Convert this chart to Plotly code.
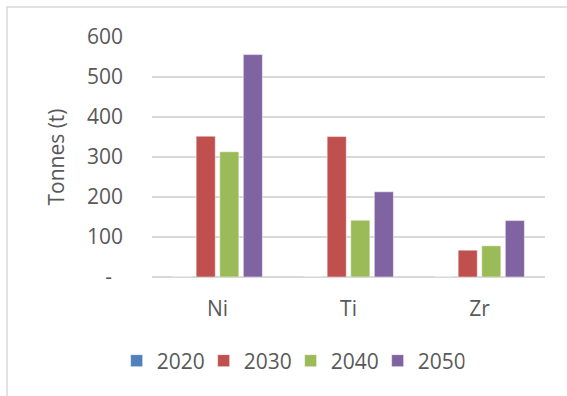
import plotly.graph_objects as go

# Data
metals = ["Ni", "Ti", "Zr"]
years = ["2020", "2030", "2040", "2050"]
tonnes_2020 = [0, 0, 0]
tonnes_2030 = [352, 351, 67]
tonnes_2040 = [313, 142, 78]
tonnes_2050 = [556, 213, 141]
series_values = [tonnes_2020, tonnes_2030, tonnes_2040, tonnes_2050]
series_colors = ["#4F81BD", "#C0504D", "#9BBB59", "#8064A2"]

y_ticks = [0, 100, 200, 300, 400, 500, 600]
y_tick_labels = ["-\u00a0\u00a0", "100", "200", "300", "400", "500", "600"]

FONT = "'Open Sans', Lato, sans-serif"
TEXT = "#595959"
GRID = "#D9D9D9"

fig = go.Figure()
for name, vals, col in zip(years, series_values, series_colors):
    fig.add_trace(go.Bar(
        name=name, x=metals, y=vals,
        marker=dict(color=col, line=dict(color="rgba(255,255,255,0.6)", width=0.8)),
    ))

fig.update_layout(
    width=567, height=396,
    margin=dict(l=152, r=22, t=37, b=119),
    paper_bgcolor="white", plot_bgcolor="white",
    barmode="group", bargap=0.28, bargroupgap=0.19,
    font=dict(family=FONT, size=21, color=TEXT),
    showlegend=True,
    legend=dict(
        orientation="h", x=-0.09, xanchor="left", y=-0.35, yanchor="middle",
        font=dict(family=FONT, size=21, color=TEXT),
        entrywidth=42, entrywidthmode="pixels",
        traceorder="normal", bgcolor="rgba(0,0,0,0)",
    ),
    xaxis=dict(
        showgrid=False, showline=False, zeroline=False,
        ticks="", ticklabelstandoff=17,
        tickfont=dict(family=FONT, size=21, color=TEXT),
    ),
    yaxis=dict(
        range=[0, 600], tickvals=y_ticks, ticktext=y_tick_labels,
        showgrid=True, gridcolor=GRID, gridwidth=1.6,
        zeroline=True, zerolinecolor=GRID, zerolinewidth=1.6,
        showline=False, ticks="", ticklabelstandoff=28,
        tickfont=dict(family=FONT, size=21, color=TEXT),
        title=dict(text="Tonnes (t)", font=dict(family=FONT, size=21, color=TEXT), standoff=16),
    ),
    shapes=[dict(
        type="rect", xref="paper", yref="paper",
        x0=-0.369, x1=2.0, y0=-2.0, y1=1.125,
        line=dict(color=GRID, width=1.5), fillcolor="rgba(0,0,0,0)", layer="below",
    )],
)

fig.write_html("out.html")
